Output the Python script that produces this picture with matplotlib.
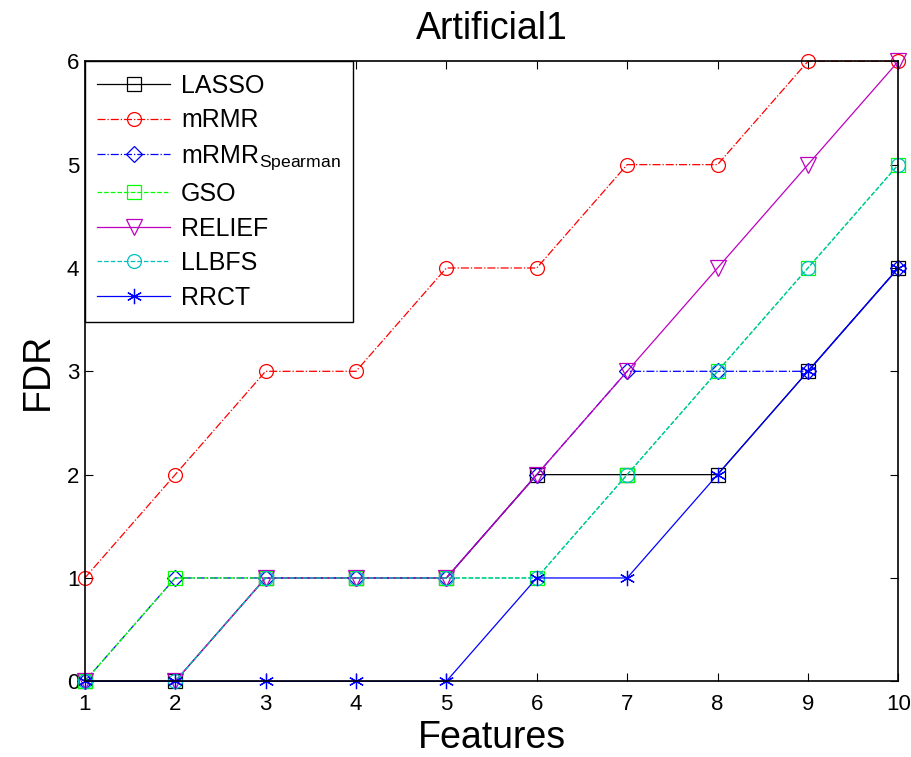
import numpy as np
import matplotlib.pyplot as plt

plt.rcParams['font.family'] = ['Liberation Sans', 'DejaVu Sans']
plt.rcParams['mathtext.fontset'] = 'custom'
plt.rcParams['mathtext.rm'] = 'Liberation Sans'

features = np.arange(1, 11)

lasso = [0, 0, 1, 1, 1, 2, 2, 2, 3, 4]
mrmr = [1, 2, 3, 3, 4, 4, 5, 5, 6, 6]
mrmr_spearman = [0, 1, 1, 1, 1, 2, 3, 3, 3, 4]
gso = [0, 1, 1, 1, 1, 1, 2, 3, 4, 5]
relief = [0, 0, 1, 1, 1, 2, 3, 4, 5, 6]
llbfs = [0, 0, 1, 1, 1, 1, 2, 3, 4, 5]
rrct = [0, 0, 0, 0, 0, 1, 1, 2, 3, 4]

# 6-armed line asterisk, like matlab's '*'
star = (6, 2, 0)

series = [
    (lasso, 'LASSO', 'k', '-', 's', 10),
    (mrmr, 'mRMR', 'r', '-.', 'o', 10),
    (mrmr_spearman, r'mRMR$_{\mathrm{Spearman}}$', 'b', '-.', 'D', 8),
    (gso, 'GSO', (0, 1, 0), '--', 's', 10),
    (relief, 'RELIEF', 'm', '-', 'v', 12),
    (llbfs, 'LLBFS', 'c', '--', 'o', 10),
    (rrct, 'RRCT', 'b', '-', star, 11),
]

fig = plt.figure(figsize=(9.12, 7.57), dpi=100)
ax = fig.add_axes([0.093, 0.100, 0.892, 0.819])

for vals, lab, col, ls, mk, ms in series:
    ax.plot(features, vals, color=col, linestyle=ls, marker=mk, markersize=ms,
            markerfacecolor='none', markeredgecolor=col, markeredgewidth=0.9,
            linewidth=0.9, label=lab, clip_on=False)

ax.set_xlim(1, 10)
ax.set_ylim(0, 6)
ax.set_xticks(features)
ax.set_yticks(np.arange(0, 7))
ax.tick_params(direction='in', top=True, right=True, labelsize=16,
               length=6, width=0.8, pad=4)
ax.tick_params(axis='x', pad=9)
for s in ax.spines.values():
    s.set_linewidth(1.2)

ax.set_title('Artificial1', fontsize=27, pad=16)
ax.set_xlabel('Features', fontsize=27, labelpad=4)
ax.set_ylabel('FDR', fontsize=27, labelpad=8)

leg = ax.legend(loc='upper left', fontsize=18, fancybox=False, framealpha=1,
                edgecolor='k', borderaxespad=0, handlelength=2.9,
                handletextpad=0.45, labelspacing=0.42, borderpad=0.5)
leg.get_frame().set_linewidth(1.0)

fig.savefig('out.png', dpi=100)
